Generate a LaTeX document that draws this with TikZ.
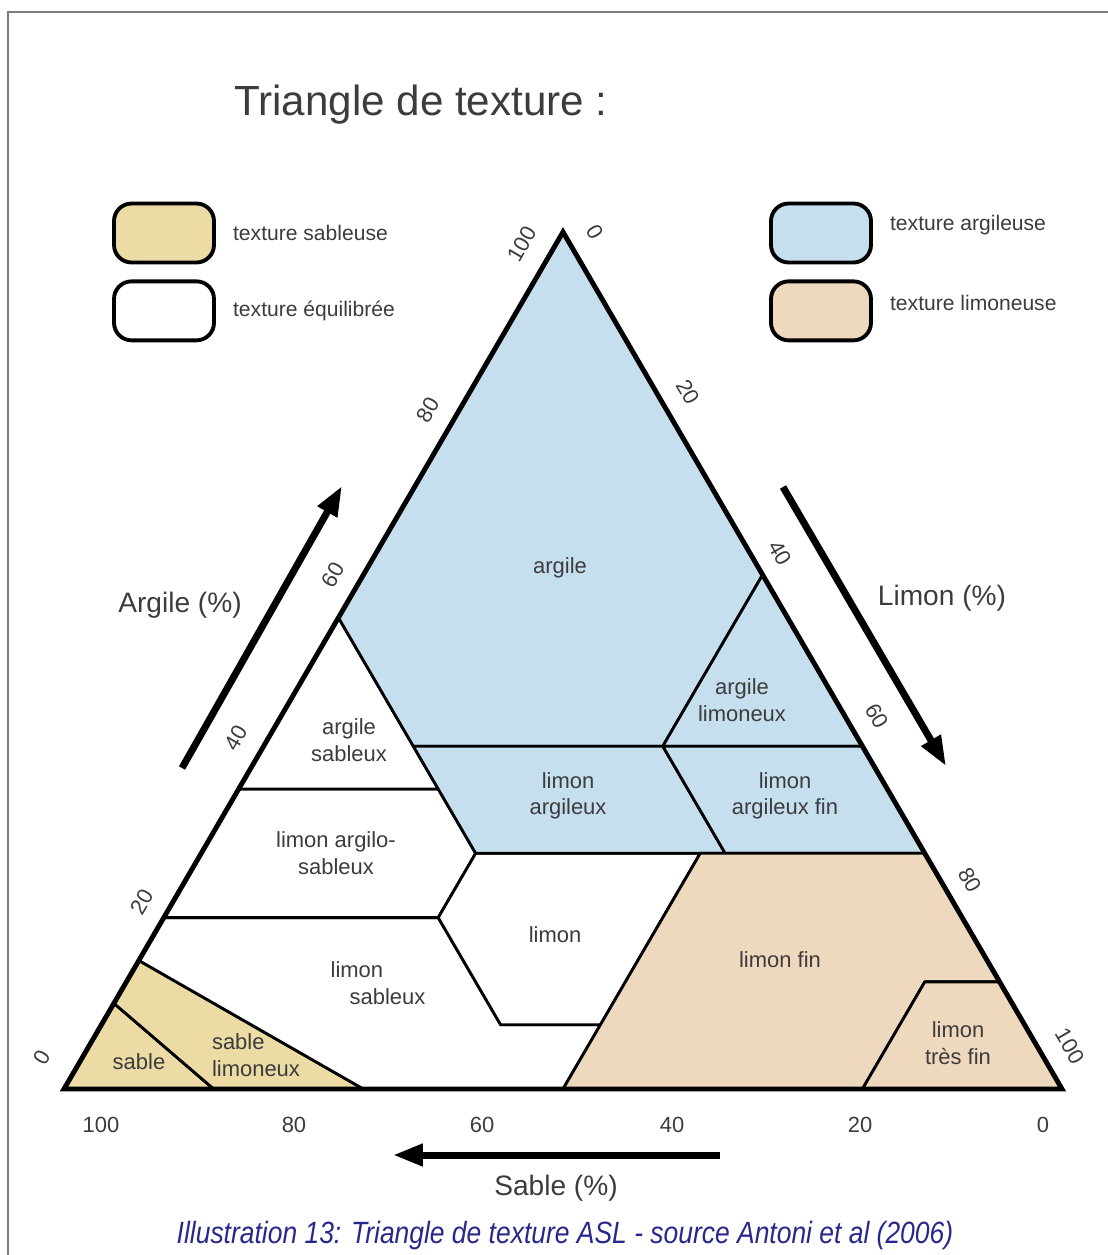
\documentclass[tikz,border=0pt]{standalone}
\usepackage{fontspec}
\setmainfont{Liberation Sans}
\newfontfamily\capfont[FakeStretch=0.86]{Liberation Sans}
\usetikzlibrary{arrows.meta,positioning}

\definecolor{sablec}{RGB}{236,219,165}
\definecolor{argc}{RGB}{198,223,239}
\definecolor{limc}{RGB}{238,216,190}
\definecolor{txtgray}{RGB}{60,60,60}
\definecolor{framegray}{RGB}{125,125,125}
\definecolor{capblue}{RGB}{40,40,140}

\begin{document}
\begin{tikzpicture}[
  x=0.02cm, y=-0.02cm,
  zone/.style={draw, line width=1.6pt, line join=round},
  lab/.style={font=\fontsize{12.5}{15}\selectfont, text=txtgray, align=center},
  tick/.style={font=\fontsize{12.5}{15}\selectfont, text=txtgray, inner sep=0.5pt},
  legbox/.style={draw, line width=2.2pt, rounded corners=10pt,
                 minimum width=2.0cm, minimum height=1.18cm},
  legtext/.style={font=\fontsize{12}{14}\selectfont, text=txtgray},
  axarrow/.style={line width=4pt, -{Triangle[length=17pt,width=12pt]}},
  axlab/.style={font=\fontsize{16}{19}\selectfont, text=txtgray}
]
\useasboundingbox (0,0) rectangle (1108,1255);
\draw[framegray, line width=1.2pt] (8,1255) -- (8,12) -- (1108,12);

\node[font=\fontsize{24}{28}\selectfont, text=txtgray, anchor=west] (title) at (228,105) {Triangle de texture :};

% legend
\node[legbox, fill=sablec] (lsab) at (164,233) {};
\node[legbox, below=0.3cm of lsab] (lequ) {};
\node[legbox, fill=argc] (larg) at (821,233) {};
\node[legbox, fill=limc, below=0.3cm of larg] (llim) {};
\node[legtext, right=2.2mm of lsab] {texture sableuse};
\node[legtext, right=2.2mm of lequ] {texture équilibrée};
\node[legtext, right=2.2mm of larg, yshift=1.5mm] {texture argileuse};
\node[legtext, right=2.2mm of llim, yshift=1.5mm] {texture limoneuse};

% corners of the triangle
\coordinate (sa) at (64,1089);
\coordinate (li) at (1062,1089);
\coordinate (ar) at (563,232);

% class limits (clay, silt, sand as fractions)
\coordinate (s1)  at (barycentric cs:ar=.10,li=0,sa=.90);
\coordinate (s2)  at (barycentric cs:ar=0,li=.15,sa=.85);
\coordinate (s3)  at (barycentric cs:ar=.15,li=0,sa=.85);
\coordinate (s4)  at (barycentric cs:ar=0,li=.30,sa=.70);
\coordinate (e20) at (barycentric cs:ar=.20,li=0,sa=.80);
\coordinate (e35) at (barycentric cs:ar=.35,li=0,sa=.65);
\coordinate (e55) at (barycentric cs:ar=.55,li=0,sa=.45);
\coordinate (k1)  at (barycentric cs:ar=.20,li=.275,sa=.525);
\coordinate (k2)  at (barycentric cs:ar=.075,li=.40,sa=.525);
\coordinate (k3)  at (barycentric cs:ar=.075,li=.50,sa=.425);
\coordinate (b50) at (barycentric cs:ar=0,li=.50,sa=.50);
\coordinate (k4)  at (barycentric cs:ar=.35,li=.20,sa=.45);
\coordinate (k5)  at (barycentric cs:ar=.275,li=.275,sa=.45);
\coordinate (k6)  at (barycentric cs:ar=.40,li=.15,sa=.45);
\coordinate (k7)  at (barycentric cs:ar=.40,li=.40,sa=.20);
\coordinate (r60) at (barycentric cs:ar=.60,li=.40,sa=0);
\coordinate (r40) at (barycentric cs:ar=.40,li=.60,sa=0);
\coordinate (k8)  at (barycentric cs:ar=.275,li=.525,sa=.20);
\coordinate (r27) at (barycentric cs:ar=.275,li=.725,sa=0);
\coordinate (k9)  at (barycentric cs:ar=.275,li=.50,sa=.225);
\coordinate (r12) at (barycentric cs:ar=.125,li=.875,sa=0);
\coordinate (k10) at (barycentric cs:ar=.125,li=.80,sa=.075);
\coordinate (b80) at (barycentric cs:ar=0,li=.80,sa=.20);

% zones
\filldraw[zone, fill=sablec] (sa) -- (s1) -- (s2) -- cycle;
\filldraw[zone, fill=sablec] (s1) -- (s3) -- (s4) -- (s2) -- cycle;
\filldraw[zone, fill=white] (s3) -- (e20) -- (k1) -- (k2) -- (k3) -- (b50) -- (s4) -- cycle;
\filldraw[zone, fill=white] (e20) -- (e35) -- (k4) -- (k5) -- (k1) -- cycle;
\filldraw[zone, fill=white] (e35) -- (e55) -- (k4) -- cycle;
\filldraw[zone, fill=white] (k5) -- (k9) -- (k3) -- (k2) -- (k1) -- cycle;
\filldraw[zone, fill=argc] (ar) -- (e55) -- (k6) -- (k7) -- (r60) -- cycle;
\filldraw[zone, fill=argc] (r60) -- (k7) -- (r40) -- cycle;
\filldraw[zone, fill=argc] (k6) -- (k7) -- (k8) -- (k5) -- cycle;
\filldraw[zone, fill=argc] (k7) -- (r40) -- (r27) -- (k8) -- cycle;
\filldraw[zone, fill=limc] (k9) -- (r27) -- (r12) -- (k10) -- (b80) -- (b50) -- cycle;
\filldraw[zone, fill=limc] (k10) -- (r12) -- (li) -- (b80) -- cycle;
\draw[line width=2.8pt, line join=miter] (sa) -- (li) -- (ar) -- cycle;

% class names
\node[lab] (nar)  at (560,568)  {argile};
\node[lab] (narl) at (742,700)  {argile\\limoneux};
\node[lab] (nars) at (349,740)  {argile\\sableux};
\node[lab] (nla)  at (568,796)  {limon\\argileux};
\node[lab] (nlaf) at (785,796)  {limon\\argileux fin};
\node[lab] (nlas) at (336,853)  {limon argilo-\\sableux};
\node[lab] (nli)  at (555,935)  {limon};
\node[lab, align=left] (nls) at (378,983) {limon\\\hspace{0.38cm}sableux};
\node[lab] (nlf)  at (780,960)  {limon fin};
\node[lab] (nltf) at (958,1043) {limon\\très fin};
\node[lab] (nsa)  at (139,1062) {sable};
\node[lab, align=left] (nsl) at (256,1055) {sable\\limoneux};

% graduations
\foreach \v/\x in {100/101, 80/294, 60/482, 40/672, 20/860, 0/1043}
  \node[tick] at (\x,1125) {\v};
\foreach \v/\x/\y in {0/42/1057, 20/142/902, 40/236/738, 60/333/575, 80/428/410, 100/522/244}
  \node[tick, rotate=60] at (\x,\y) {\v};
\foreach \v/\x/\y in {0/595/232, 20/688/392, 40/780/553, 60/877/716, 80/970/880, 100/1070/1046}
  \node[tick, rotate=-60] at (\x,\y) {\v};

% axes
\coordinate (argA) at (182,768);
\coordinate (argB) at (342,486);
\coordinate (limA) at (783,487);
\coordinate (limB) at (946,766);
\coordinate (sabA) at (720,1155);
\coordinate (sabB) at (393,1155);
\draw[axarrow] (argA) -- (argB);
\draw[axarrow] (limA) -- (limB);
\draw[axarrow] (sabA) -- (sabB);
\node[axlab] (largile) at (180,605) {Argile (\%)};
\node[axlab] (llimon)  at (942,598) {Limon (\%)};
\node[axlab] (lsable)  at (556,1188) {Sable (\%)};

\node[font=\capfont\itshape\fontsize{17.5}{20}\selectfont, text=capblue] (caption) at (565,1236)
  {Illustration 13: Triangle de texture ASL - source Antoni et al (2006)};
\end{tikzpicture}
\end{document}
